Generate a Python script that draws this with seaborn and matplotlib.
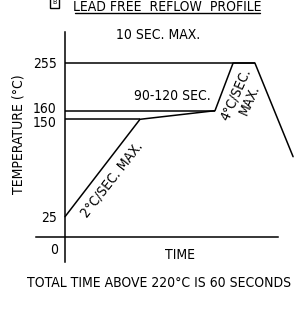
import numpy as np
import matplotlib
matplotlib.use('Agg')
import matplotlib.pyplot as plt
import matplotlib.transforms as mtrans
import seaborn as sns

# reflow profile breakpoints (schematic time units, temperature in °C)
profile_time = [0, 2.65, 5.3, 5.94, 6.71, 8.06]
profile_temp = [25, 150, 160, 255, 255, 102]

# reference levels and where each one meets the profile
level_temp = [150, 160, 255]
level_end = [2.65, 5.3, 6.71]

ytick_vals = [25, 150, 160, 255]
ytick_labels = ['25', '150', '160', '255']
xtick_vals = [1, 2, 3, 4, 5, 6, 7]

# drawing is not to scale: temperature -> height is piecewise linear
T_KNOTS = [-200, 0, 25, 150, 160, 255, 500]
P_KNOTS = [-160, 0, 20, 117.4, 126, 173.7, 296.7]


def fwd(t):
    return np.interp(t, T_KNOTS, P_KNOTS)


def inv(p):
    return np.interp(p, P_KNOTS, T_KNOTS)


sns.set_style('white')
plt.rcParams['font.family'] = ['DejaVu Sans']
plt.rcParams['font.stretch'] = 'condensed'

W, H = 303, 315
fig = plt.figure(figsize=(W / 100, H / 100), dpi=100)
ax = fig.add_axes([0, 0, 1, 1])
ax.set_yscale('function', functions=(fwd, inv))

sns.lineplot(x=profile_time, y=profile_temp, sort=False, color='black',
             linewidth=1.1, ax=ax)
ax.hlines(level_temp, 0, level_end, color='black', linewidth=1.1)

# x: 28.3 px per time unit, origin at px 65
ax.set_xlim(-65 / 28.3, (W - 65) / 28.3)
ax.set_ylim(inv(-(H - 236.7)), inv(236.7))

for s in ['top', 'right']:
    ax.spines[s].set_visible(False)
ax.spines['left'].set_position(('data', 0))
ax.spines['bottom'].set_position(('data', 0))
ax.spines['left'].set_bounds(inv(-25.3), inv(204.7))
ax.spines['bottom'].set_bounds(-1.02, 7.53)
for s in ['left', 'bottom']:
    ax.spines[s].set_color('black')
    ax.spines[s].set_linewidth(1.1)

ax.set_xticks(xtick_vals)
ax.set_xticklabels([])
ax.tick_params(axis='x', direction='in', length=3, width=1.1, color='black')
ax.set_yticks(ytick_vals)
ax.set_yticklabels(ytick_labels)
ax.tick_params(axis='y', length=0, pad=6, labelsize=10, labelcolor='black')
ax.minorticks_off()

# nudge the crowded 160 / 150 labels apart like the drawing
for lab, dy in zip(ax.get_yticklabels(), [0, -2, 3, 0]):
    lab.set_transform(lab.get_transform() +
                      mtrans.ScaledTranslation(0, dy / 100, fig.dpi_scale_trans))


def px(x, y):
    return x / W, 1 - y / H


kw = dict(transform=ax.transAxes, color='black', ha='center', va='center')
ax.text(*px(54, 250), '0', fontsize=10, **kw)
ax.text(*px(180, 255), 'TIME', fontsize=10, **kw)
ax.text(*px(19, 134), 'TEMPERATURE (°C)', fontsize=10, rotation=90, **kw)
ax.text(*px(159, 283), 'TOTAL TIME ABOVE 220°C IS 60 SECONDS', fontsize=10, **kw)
ax.text(*px(158, 35), '10 SEC. MAX.', fontsize=10, **kw)
ax.text(*px(172, 96), '90-120 SEC.', fontsize=10, **kw)
ax.text(*px(112, 180), '2°C/SEC. MAX.', fontsize=10, rotation=52,
        rotation_mode='anchor', **kw)
ax.text(*px(243, 97), '4°C/SEC.\nMAX.', fontsize=10, rotation=66,
        rotation_mode='anchor', multialignment='center', linespacing=1.1, **kw)

# title, partly cut off at the top edge, underlined
ax.text(*px(167, 11), 'LEAD FREE  REFLOW  PROFILE', fontsize=10,
        transform=ax.transAxes, ha='center', va='baseline', color='black')
ax.plot([75 / W, 260 / W], [1 - 13 / H] * 2, color='black', linewidth=1.0,
        transform=ax.transAxes, clip_on=False)
ax.text(*px(54.5, 2.5), 'B', fontsize=5, transform=ax.transAxes, ha='center',
        va='center', color='black',
        bbox=dict(boxstyle='square,pad=0.35', fc='white', ec='black', lw=1.0))

fig.savefig('out.png', dpi=100)
